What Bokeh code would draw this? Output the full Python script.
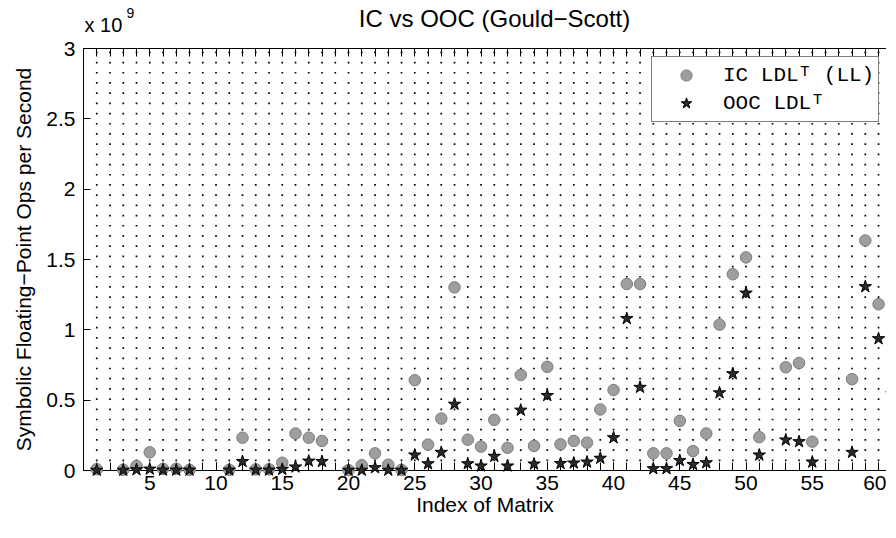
import numpy as np
from bokeh.plotting import figure
from bokeh.layouts import column
from bokeh.models import FixedTicker, LinearAxis, Legend, LegendItem, Label, Range1d
from bokeh.embed import file_html
from bokeh.resources import INLINE

nan = float("nan")

# ---- data (values in units of 1e9 symbolic floating-point ops per second) ----
matrix_index = [1, 3, 4, 5, 6, 7, 8, 11, 12, 13, 14, 15, 16, 17, 18, 20, 21, 22, 23, 24,
                25, 26, 27, 28, 29, 30, 31, 32, 33, 34, 35, 36, 37, 38, 39, 40,
                41, 42, 43, 44, 45, 46, 47, 48, 49, 50, 51,
                53, 54, 55, 58, 59, 60, 61]
ic_ldlt = [0.009, 0.005, 0.032, 0.129, 0.012, 0.012, 0.005, 0.005, 0.233, 0.008, 0.008,
           0.055, 0.263, 0.233, 0.210, 0.003, 0.037, 0.122, 0.041, 0.004,
           0.642, 0.184, 0.369, 1.302, 0.219, 0.170, 0.360, 0.161, 0.679, 0.175, 0.737,
           0.186, 0.210, 0.198, 0.434, 0.572,
           1.326, 1.326, 0.122, 0.122, 0.353, 0.138, 0.263, 1.037, 1.395, 1.515, 0.237,
           0.734, 0.764, 0.205, 0.649, 1.635, 1.182, nan]
ooc_ldlt = [0.002, 0.002, 0.005, 0.010, 0.003, 0.003, 0.003, 0.003, 0.064, 0.003, 0.003,
            0.008, 0.025, 0.067, 0.064, 0.002, 0.002, 0.020, 0.002, 0.002,
            0.110, 0.048, 0.129, 0.471, 0.048, 0.032, 0.101, 0.032, 0.429, 0.046, 0.533,
            0.050, 0.053, 0.060, 0.087, 0.233,
            1.080, 0.591, 0.013, 0.013, 0.071, 0.043, 0.055, 0.552, 0.688, 1.261, 0.110,
            0.217, 0.205, 0.060, 0.129, 1.307, 0.937, 0.545]

x_major_ticks = [5, 10, 15, 20, 25, 30, 35, 40, 45, 50, 55, 60]
x_minor_ticks = list(range(0, 62))
y_ticks = [0, 0.5, 1, 1.5, 2, 2.5, 3]
y_tick_labels = ["0", "0.5", "1", "1.5", "2", "2.5", "3"]

title_text = "IC vs OOC (Gould\u2212Scott)"
x_label = "Index of Matrix"
y_label = "Symbolic Floating\u2212Point Ops per Second"
legend_labels = ["IC LDL\u1d40 (LL)", "OOC LDL\u1d40"]
exp_text = "x 10"
exp_power = "9"

FONT = "Liberation Sans"
MONO = "Liberation Mono"

X_MAX = 60.6
Y_MAX = 3.0
FRAME_W = 803
FRAME_H = 422
LEFT = 83
HEAD_H = 36

# ---------------- header strip (title and axis exponent) ----------------
# header coordinates are pixels measured from the plot frame's left edge / strip bottom
head = figure(frame_width=FRAME_W, frame_height=HEAD_H,
              x_range=Range1d(0, FRAME_W), y_range=Range1d(0, HEAD_H),
              x_axis_type=None, y_axis_type=None, toolbar_location=None,
              output_backend="svg", min_border=0, min_border_left=LEFT,
              min_border_right=0, min_border_top=0, min_border_bottom=0,
              title_location=None)
head.outline_line_color = None
head.add_layout(Label(x=411, y=18, text=title_text, text_font=FONT,
                      text_font_size="24px", text_align="center",
                      text_baseline="alphabetic", text_color="black"))
head.add_layout(Label(x=1, y=11.5, text=exp_text, text_font=FONT, text_font_size="20px",
                      text_baseline="alphabetic", text_color="black"))
head.add_layout(Label(x=43, y=24, text=exp_power, text_font=FONT,
                      text_font_size="14px", text_baseline="alphabetic",
                      text_color="black"))

# ---------------- main plot ----------------
p = figure(frame_width=FRAME_W, frame_height=FRAME_H, output_backend="svg",
           toolbar_location=None, title_location=None,
           x_range=Range1d(0, X_MAX), y_range=Range1d(0, Y_MAX),
           min_border_left=LEFT, min_border_right=0, min_border_top=12, min_border_bottom=52)
p.outline_line_color = None
p.background_fill_color = "white"
p.border_fill_color = "white"
p.grid.visible = False

# dotted grid: dots along vertical lines at every integer index
dot_step = 0.0725
gx, gy = np.meshgrid(np.arange(1, 61), np.arange(1, 42) * dot_step)
p.scatter(gx.ravel(), gy.ravel(), marker="square", size=1.7,
          fill_color="black", line_color=None)

xa = p.xaxis[0]
xa.ticker = FixedTicker(ticks=x_major_ticks, minor_ticks=x_minor_ticks)
xa.axis_label = x_label
xa.axis_label_text_font = FONT
xa.axis_label_text_font_size = "21px"
xa.axis_label_text_font_style = "normal"
xa.axis_label_text_color = "black"
xa.axis_label_standoff = 0
xa.major_label_text_font = FONT
xa.major_label_text_font_size = "21px"
xa.major_label_standoff = 5
xa.major_label_text_color = "black"
xa.major_tick_in = 8
xa.major_tick_out = 0
xa.minor_tick_in = 8
xa.minor_tick_out = 0

ya = p.yaxis[0]
ya.ticker = FixedTicker(ticks=y_ticks, minor_ticks=[])
ya.major_label_overrides = {t: s for t, s in zip(y_ticks, y_tick_labels)}
ya.axis_label = y_label
ya.axis_label_text_font = FONT
ya.axis_label_text_font_size = "21px"
ya.axis_label_text_font_style = "normal"
ya.axis_label_text_color = "black"
ya.axis_label_standoff = 8
ya.major_label_text_font = FONT
ya.major_label_text_font_size = "21px"
ya.major_label_standoff = 8
ya.major_label_text_color = "black"
ya.major_tick_in = 7
ya.major_tick_out = 0
ya.minor_tick_line_color = None

top = LinearAxis(ticker=FixedTicker(ticks=[], minor_ticks=x_minor_ticks))
top.major_label_standoff = 0
top.major_tick_in = 8
top.major_tick_out = 0
top.minor_tick_in = 8
top.minor_tick_out = 0
p.add_layout(top, "above")

for a in (xa, ya, top):
    a.axis_line_color = "black"
    a.axis_line_width = 1
    a.major_tick_line_color = "black"
for a in (xa, top):
    a.minor_tick_line_color = "black"

r_ic = p.scatter(matrix_index, ic_ldlt, marker="circle", size=11.5,
                 fill_color="#9e9e9e", line_color="#7c7c7c", line_width=1,
                 level="overlay")
r_ooc = p.scatter(matrix_index, ooc_ldlt, marker="star", size=13,
                  fill_color="#2a2a2a", line_color="black", line_width=1,
                  level="overlay")

legend = Legend(items=[LegendItem(label=legend_labels[0], renderers=[r_ic]),
                       LegendItem(label=legend_labels[1], renderers=[r_ooc])],
                location=(568, FRAME_H - 74))
legend.label_text_font = MONO
legend.label_text_font_size = "21px"
legend.label_text_color = "black"
legend.padding = 4
legend.spacing = 0
legend.glyph_width = 60
legend.glyph_height = 28
legend.label_height = 28
legend.label_standoff = 7
legend.label_width = 150
legend.border_line_color = "black"
legend.border_line_width = 1
legend.background_fill_alpha = 1
legend.background_fill_color = "white"
legend.margin = 0
p.add_layout(legend)

layout = column(head, p, spacing=0)
open("out.html", "w").write(file_html(layout, INLINE))
